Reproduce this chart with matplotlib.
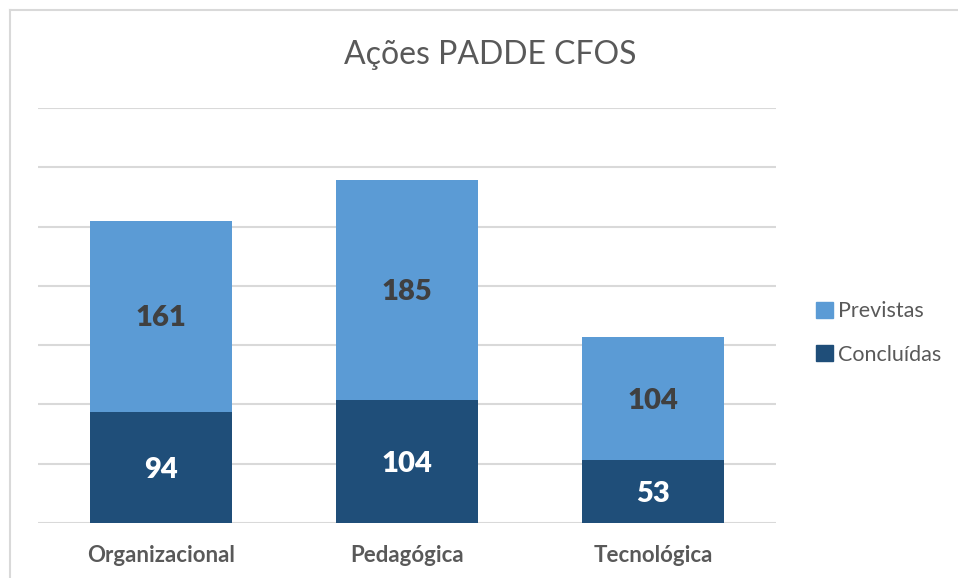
import matplotlib
matplotlib.use("Agg")
import matplotlib.pyplot as plt
from matplotlib.lines import Line2D
from matplotlib.patches import Patch

categories = ["Organizacional", "Pedagógica", "Tecnológica"]
concluidas = [94, 104, 53]
previstas = [161, 185, 104]

plt.rcParams['font.family'] = ['Lato', 'DejaVu Sans']

W, H = 958, 578
fig = plt.figure(figsize=(W / 100, H / 100), dpi=100)
ax = fig.add_axes([38 / W, 1 - 523 / H, (776 - 38) / W, (523 - 108) / H])

c_conc = "#1F4E79"
c_prev = "#5B9BD5"
x = range(len(categories))
bw = 0.577

ax.set_ylim(0, 350)
ax.set_xlim(-0.5, 2.5)
for yv in range(0, 351, 50):
    ax.axhline(yv, color="#D9D9D9", lw=1.5, zorder=0)

ax.bar(x, concluidas, bw, color=c_conc, zorder=2, label="Concluídas")
ax.bar(x, previstas, bw, bottom=concluidas, color=c_prev, zorder=2, label="Previstas")

for i in x:
    ax.text(i, concluidas[i] / 2 - 2, str(concluidas[i]), ha="center", va="center",
            color="white", fontsize=21, fontweight="heavy", zorder=3)
    ax.text(i, concluidas[i] + previstas[i] / 2 - 2, str(previstas[i]), ha="center", va="center",
            color="#404040", fontsize=21, fontweight="heavy", zorder=3)

for s in ax.spines.values():
    s.set_visible(False)
ax.set_yticks([])
ax.set_xticks(list(x))
ax.set_xticklabels(categories, fontsize=16, fontweight="bold", color="#595959")
ax.tick_params(axis="x", length=0, pad=16)

fig.text(490 / W, 1 - 55 / H, "Ações PADDE CFOS", ha="center", va="center",
         fontsize=23, color="#595959")

handles = [Patch(color=c_prev), Patch(color=c_conc)]
fig.legend(handles, ["Previstas", "Concluídas"], loc="center left",
           bbox_to_anchor=(797 / W, 1 - 333 / H), frameon=False, fontsize=15.5,
           labelcolor="#595959", handlelength=0.75, handleheight=0.75,
           handletextpad=0.25, labelspacing=1.1)

# outer chart border (partially visible)
fig.add_artist(Line2D([10 / W, 1.0], [1 - 10 / H, 1 - 10 / H], transform=fig.transFigure,
                      color="#D9D9D9", lw=1.5))
fig.add_artist(Line2D([10 / W, 10 / W], [0, 1 - 10 / H], transform=fig.transFigure,
                      color="#D9D9D9", lw=1.5))

fig.savefig("out.png", dpi=100)
